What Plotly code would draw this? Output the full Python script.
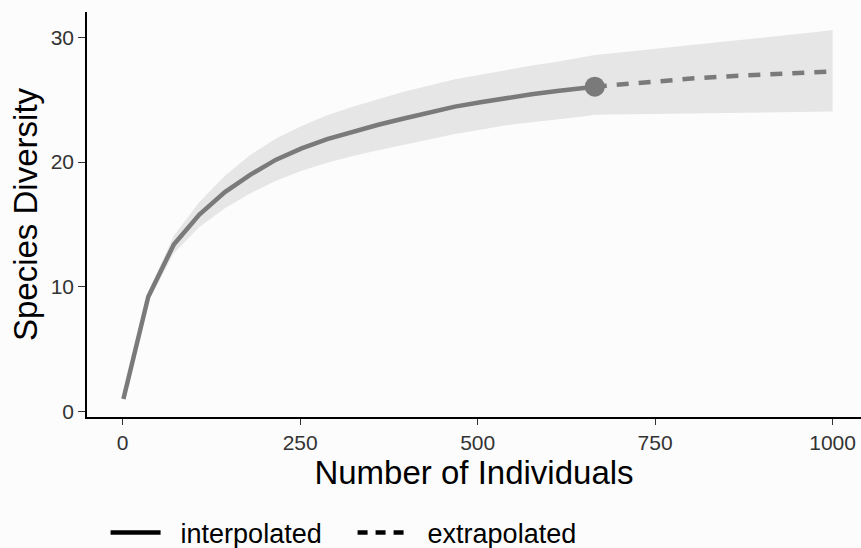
import plotly.graph_objects as go

# Rarefaction (interpolated) part of the species accumulation curve
interp_n = [1, 36, 72, 108, 144, 180, 216, 252, 288, 324, 360, 396, 432, 468, 504, 540, 576, 612, 648, 665]
interp_s = [1.0, 9.2, 13.4, 15.8, 17.6, 19.0, 20.2, 21.1, 21.85, 22.45, 23.0, 23.5, 24.0, 24.45, 24.8, 25.15, 25.45, 25.7, 25.95, 26.05]
interp_lo = [1.0, 8.8, 12.7, 14.8, 16.3, 17.5, 18.5, 19.3, 19.95, 20.5, 20.95, 21.4, 21.85, 22.25, 22.6, 22.95, 23.2, 23.4, 23.65, 23.8]
interp_hi = [1.0, 9.6, 14.1, 16.8, 18.9, 20.6, 21.9, 22.9, 23.75, 24.45, 25.05, 25.65, 26.15, 26.65, 27.0, 27.4, 27.75, 28.05, 28.4, 28.6]

# Extrapolated part, starting at the observed sample size
extrap_n = [665, 700, 735, 770, 805, 840, 875, 910, 945, 980, 1000]
extrap_s = [26.05, 26.22, 26.43, 26.6, 26.72, 26.85, 26.96, 27.07, 27.16, 27.23, 27.27]
extrap_lo = [23.8, 23.83, 23.86, 23.89, 23.92, 23.95, 23.98, 24.0, 24.02, 24.04, 24.06]
extrap_hi = [28.6, 28.8, 29.0, 29.25, 29.45, 29.65, 29.85, 30.05, 30.25, 30.45, 30.6]

# Observed sample
obs_n = [665]
obs_s = [26.05]

x_ticks = [0, 250, 500, 750, 1000]
y_ticks = [0, 10, 20, 30]

LINE = "#7a7a7a"
BAND = "#e6e6e6"
BG = "#fcfcfc"
FONT = "Liberation Sans, Arial, sans-serif"
NBSP = "\u00a0"

band_n = interp_n + extrap_n[1:]
band_lo = interp_lo + extrap_lo[1:]
band_hi = interp_hi + extrap_hi[1:]

fig = go.Figure()

# confidence band
fig.add_trace(go.Scatter(x=band_n, y=band_lo, mode="lines", line=dict(width=0, color=BAND),
                         showlegend=False, hoverinfo="skip"))
fig.add_trace(go.Scatter(x=band_n, y=band_hi, mode="lines", line=dict(width=0, color=BAND),
                         fill="tonexty", fillcolor=BAND, showlegend=False, hoverinfo="skip"))

# curves
fig.add_trace(go.Scatter(x=interp_n, y=interp_s, mode="lines",
                         line=dict(color=LINE, width=4.5), showlegend=False))
fig.add_trace(go.Scatter(x=extrap_n, y=extrap_s, mode="lines",
                         line=dict(color=LINE, width=4.5, dash="12px,10px"), showlegend=False))
fig.add_trace(go.Scatter(x=obs_n, y=obs_s, mode="markers",
                         marker=dict(color=LINE, size=20), showlegend=False))

# legend keys (black line samples)
fig.add_trace(go.Scatter(x=[None], y=[None], mode="lines", name=NBSP * 2 + "interpolated",
                         line=dict(color="black", width=4.5)))
fig.add_trace(go.Scatter(x=[None], y=[None], mode="lines", name=NBSP * 2 + "extrapolated",
                         line=dict(color="black", width=4.5, dash="10px,8px")))

fig.update_layout(
    width=861, height=548,
    margin=dict(l=87, r=0, t=12, b=131, autoexpand=False),
    paper_bgcolor=BG, plot_bgcolor=BG,
    font=dict(family=FONT, color="black"),
    showlegend=True,
    legend=dict(orientation="h", x=0.024, xanchor="left", y=-0.286, yanchor="middle",
                traceorder="normal",
                font=dict(size=27, color="black"), bgcolor="rgba(0,0,0,0)",
                itemwidth=50, entrywidth=182, tracegroupgap=0),
    xaxis=dict(range=[-50.3, 1040], tickvals=x_ticks, ticktext=[str(v) for v in x_ticks],
               showgrid=False, zeroline=False, showline=True, linecolor="black", linewidth=1.5,
               ticks="outside", ticklen=6, tickwidth=1.2, tickcolor="#333333",
               tickfont=dict(size=21, color="#333333"),
               title=dict(text="Number of Individuals", font=dict(size=33, color="black"), standoff=7)),
    yaxis=dict(range=[-0.44, 32.04], tickvals=y_ticks, ticktext=[str(v) for v in y_ticks],
               showgrid=False, zeroline=False, showline=True, linecolor="black", linewidth=1.5,
               ticks="outside", ticklen=7, tickwidth=1.2, tickcolor="#333333",
               tickfont=dict(size=21, color="#333333"),
               title=dict(text="Species Diversity", font=dict(size=33, color="black"), standoff=3)),
)

fig.write_html("out.html")
